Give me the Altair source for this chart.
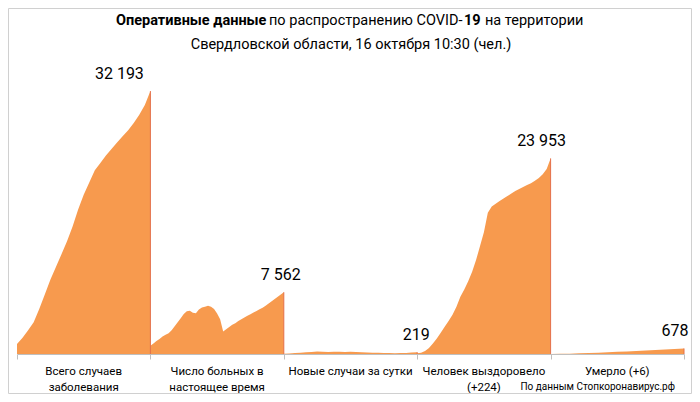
import altair as alt
import pandas as pd

categories = [
    "Всего случаев\nзаболевания",
    "Число больных в\nнастоящее время",
    "Новые случаи за сутки",
    "Человек выздоровело\n(+224)",
    "Умерло (+6)",
]

total_cases = [1220, 2000, 2900, 3900, 5500, 7300, 9100, 10650, 12200, 13800,
               15600, 17700, 19500, 21000, 22500, 23400, 24300, 25100, 25900,
               26650, 27400, 28300, 29300, 30500, 32193]

active = [1000, 1300, 1600, 1850, 2150, 2350, 2550, 2900, 3400, 3900, 4370,
          4900, 5250, 5300, 5050, 5000, 5450, 5700, 5800, 5900, 5780, 5500,
          4950, 4250, 2750, 3020, 3300, 3580, 3780, 4030, 4250, 4470, 4680,
          4870, 5070, 5270, 5470, 5670, 5900, 6170, 6450, 6720, 7000, 7280,
          7562]

new_cases = [40, 70, 110, 160, 210, 260, 300, 280, 250, 290, 270, 240, 280,
             250, 220, 190, 160, 140, 120, 110, 100, 110, 130, 170, 219]

recovered = [90, 150, 380, 750, 1300, 1900, 2600, 3350, 4050, 4800, 5800,
             7000, 7900, 8900, 10065, 11500, 13200, 14900, 17300, 18050,
             18400, 18750, 19040, 19350, 19650, 19950, 20200, 20450, 20700,
             20900, 21200, 21550, 22000, 22650, 23953]

deaths = [5, 20, 45, 80, 120, 165, 215, 265, 320, 375, 430, 490, 555, 615, 678]

series = [total_cases, active, new_cases, recovered, deaths]

title_line1 = [("Оперативные данные", "bold"), ("по распространению COVID-", "normal"),
               ("19", "bold"), ("на территории", "normal")]
title_line2 = "Свердловской области, 16 октября 10:30 (чел.)"
source_text = "По данным Стопкоронавирус.рф"

# ---- styles / layout ----
W, H = 667, 294
ORANGE = "#F79A4E"
EDGE = "#E4704A"
GRAY = "#BFBFBF"
FONT = "Roboto"
title_x = [99, 252, 447, 468]
label_dx = [-31, -3, -1, -9, -9]

rows = []
for c, vals in enumerate(series):
    n = len(vals)
    for j, v in enumerate(vals):
        rows.append({"x": c + j / (n - 1), "v": v})
df = pd.DataFrame(rows)

xscale = alt.Scale(domain=[0, 5], nice=False, zero=False)
yscale = alt.Scale(domain=[0, 36000], nice=False)

area = alt.Chart(df).mark_area(color=ORANGE, interpolate="linear").encode(
    x=alt.X("x:Q", scale=xscale,
            axis=alt.Axis(values=[0, 1, 2, 3, 4, 5], labels=False, title=None,
                          grid=False, domainColor=GRAY, tickColor=GRAY, tickSize=5)),
    y=alt.Y("v:Q", scale=yscale, axis=None, stack=None),
)

edge_df = pd.DataFrame({"x": [c + 1 for c in range(5)],
                        "v": [s[-1] for s in series], "z": [0] * 5})
edges = alt.Chart(edge_df).mark_rule(color=EDGE, strokeWidth=1).encode(
    x=alt.X("x:Q", scale=xscale), y=alt.Y("z:Q", scale=yscale), y2="v:Q")

layers = [area, edges]

for c, vals in enumerate(series):
    last = vals[-1]
    txt = f"{last:,}".replace(",", " ")
    ldf = pd.DataFrame({"x": [c + 1], "v": [last], "t": [txt]})
    layers.append(
        alt.Chart(ldf).mark_text(font=FONT, fontSize=16, color="#000000",
                                 align="center", baseline="middle",
                                 dx=label_dx[c], dy=-17).encode(
            x=alt.X("x:Q", scale=xscale), y=alt.Y("v:Q", scale=yscale), text="t:N")
    )

cat_df = pd.DataFrame({"pos": [i + 0.5 for i in range(5)], "t": categories})
layers.append(
    alt.Chart(cat_df).mark_text(font=FONT, fontSize=11.5, color="#000000",
                                align="center", baseline="top", lineBreak="\n",
                                lineHeight=16).encode(
        x=alt.X("pos:Q", scale=xscale), y=alt.value(H + 12), text="t:N")
)

for (seg, weight), px in zip(title_line1, title_x):
    layers.append(
        alt.Chart(pd.DataFrame({"t": [seg]})).mark_text(
            font=FONT, fontSize=14.5, fontWeight=weight, color="#000000",
            align="left", baseline="middle").encode(
            x=alt.value(px), y=alt.value(-38.6), text="t:N")
    )

layers.append(
    alt.Chart(pd.DataFrame({"t": [title_line2]})).mark_text(
        font=FONT, fontSize=14.5, color="#000000", align="center",
        baseline="middle").encode(x=alt.value(334), y=alt.value(-15.4), text="t:N")
)

layers.append(
    alt.Chart(pd.DataFrame({"t": [source_text]})).mark_text(
        font=FONT, fontSize=10, color="#000000", align="right",
        baseline="middle").encode(x=alt.value(658), y=alt.value(H + 33), text="t:N")
)

layers.append(
    alt.Chart(pd.DataFrame({"a": [0]})).mark_rect(
        fillOpacity=0, stroke="#D0D0D0", strokeWidth=1).encode(
        x=alt.value(-8.5), x2=alt.value(W + 7.5),
        y=alt.value(-51.5), y2=alt.value(H + 39.5))
)

chart = alt.layer(*layers).properties(
    width=W, height=H,
    autosize=alt.AutoSizeParams(type="none"),
    padding={"left": 9, "right": 8, "top": 52, "bottom": 40},
).configure_view(stroke=None)

chart.save("out.html", embed_options={"renderer": "svg", "actions": False})
